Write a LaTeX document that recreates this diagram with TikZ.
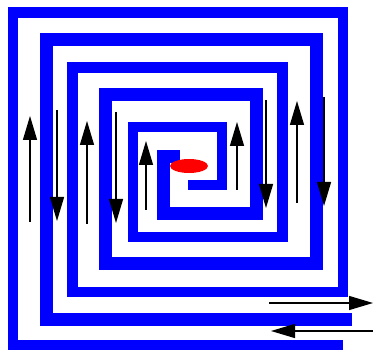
\documentclass[tikz,border=0pt]{standalone}
\usetikzlibrary{arrows.meta,shapes.geometric}

\begin{document}
\begin{tikzpicture}[x=1pt,y=-1pt,
  thin coil/.style={draw=blue, line width=10.5pt, miter limit=10, line join=miter},
  thick coil/.style={draw=blue, line width=13pt, miter limit=10, line join=miter},
  flow/.style={draw=black, line width=1.4pt, -{Triangle[width=14pt,length=24pt]}}]

\useasboundingbox (0,0) rectangle (373,350);

% First winding
\draw[thin coil] (343,345) -- (13,345) -- (13,12.5) -- (343,12.5) -- (343,292)
  -- (72.5,292) -- (72.5,67.5) -- (282.5,67.5) -- (282.5,237) -- (133,237)
  -- (133,127) -- (222,127) -- (222,185) -- (188,185);

% Second winding
\draw[thick coil] (352,320) -- (46.5,320) -- (46.5,40) -- (316.5,40) -- (316.5,264)
  -- (105,264) -- (105,95) -- (256.5,95) -- (256.5,213.5) -- (163.5,213.5)
  -- (163.5,156.5) -- (180,156.5);

% Centre
\node[ellipse, fill=red, minimum width=38pt, minimum height=14pt, inner sep=0pt] (core) at (189,166) {};

% Left side arrows
\draw[flow] (30,222) -- (30,116);
\draw[flow] (57,110) -- (57,221);
\draw[flow] (87,224) -- (87,121);
\draw[flow] (116,112) -- (116,223);
\draw[flow] (146,210) -- (146,141);

% Right side arrows
\draw[flow] (237,190) -- (237,122);
\draw[flow] (266,100) -- (266,208);
\draw[flow] (297,203) -- (297,101);
\draw[flow] (324,97) -- (324,206);

% Terminals
\draw[flow] (269,303) -- (373,303);
\draw[flow] (373,331) -- (271,331);

\end{tikzpicture}
\end{document}
